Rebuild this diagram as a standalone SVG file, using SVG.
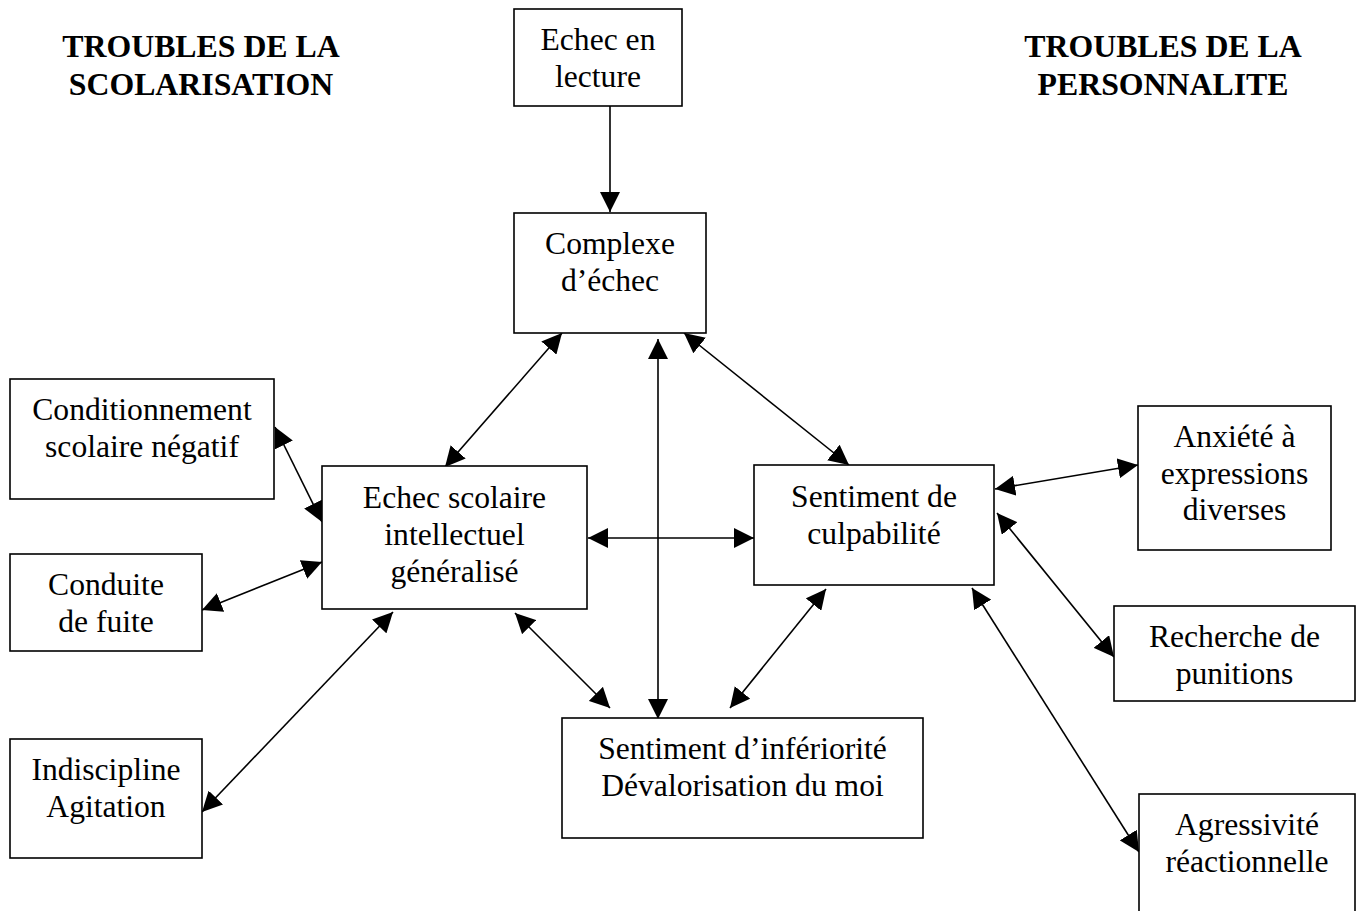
<svg xmlns="http://www.w3.org/2000/svg" width="1362" height="911" viewBox="0 0 1362 911">
<style>
.box{fill:#fff;stroke:#000;stroke-width:1.6}
.t{font-family:"Liberation Serif","Times New Roman",serif;font-size:31.6px;text-anchor:middle;fill:#000}
.h{font-family:"Liberation Serif","Times New Roman",serif;font-size:31.8px;font-weight:bold;text-anchor:middle;fill:#000}
.c{stroke:#000;stroke-width:1.6;fill:none;marker-end:url(#ah)}
.d{marker-start:url(#ah)}
</style>
<defs>
<marker id="ah" markerUnits="userSpaceOnUse" markerWidth="20" markerHeight="20" viewBox="0 0 20 20" refX="20" refY="10" orient="auto-start-reverse">
<path d="M0,0 L20,10 L0,20 z" fill="#000"/>
</marker>
</defs>
<rect width="1362" height="911" fill="#fff"/>
<g id="titles">
<text class="h" x="201" y="57">TROUBLES DE LA</text>
<text class="h" x="201" y="95">SCOLARISATION</text>
<text class="h" x="1163" y="57">TROUBLES DE LA</text>
<text class="h" x="1163" y="95">PERSONNALITE</text>
</g>
<g id="connectors">
<line class="c" x1="610" y1="106" x2="610" y2="212"/>
<line class="c d" x1="562" y1="333" x2="445" y2="467"/>
<line class="c d" x1="658" y1="339" x2="658" y2="719"/>
<line class="c d" x1="684" y1="333" x2="849" y2="465"/>
<line class="c d" x1="588" y1="538" x2="754" y2="538"/>
<line class="c d" x1="515" y1="613" x2="610" y2="708"/>
<line class="c d" x1="826" y1="589" x2="730" y2="708"/>
<line class="c d" x1="995" y1="489" x2="1138" y2="465"/>
<line class="c d" x1="997" y1="513" x2="1114" y2="657"/>
<line class="c d" x1="972" y1="588" x2="1139" y2="852"/>
<line class="c d" x1="275" y1="427" x2="322" y2="522"/>
<line class="c d" x1="202" y1="610" x2="322" y2="562"/>
<line class="c d" x1="202" y1="812" x2="393" y2="612"/>
</g>
<g id="echec-lecture">
<rect class="box" x="514" y="9" width="168" height="97"/>
<text class="t" x="598" y="50">Echec en</text>
<text class="t" x="598" y="87">lecture</text>
</g>
<g id="complexe">
<rect class="box" x="514" y="213" width="192" height="120"/>
<text class="t" x="610" y="254">Complexe</text>
<text class="t" x="610" y="291">d’échec</text>
</g>
<g id="echec-scolaire">
<rect class="box" x="322" y="466" width="265" height="143"/>
<text class="t" x="454.5" y="508">Echec scolaire</text>
<text class="t" x="454.5" y="545">intellectuel</text>
<text class="t" x="454.5" y="582">généralisé</text>
</g>
<g id="culpabilite">
<rect class="box" x="754" y="465" width="240" height="120"/>
<text class="t" x="874" y="507">Sentiment de</text>
<text class="t" x="874" y="544">culpabilité</text>
</g>
<g id="inferiorite">
<rect class="box" x="562" y="718" width="361" height="120"/>
<text class="t" x="742.5" y="759">Sentiment d’infériorité</text>
<text class="t" x="742.5" y="796">Dévalorisation du moi</text>
</g>
<g id="conditionnement">
<rect class="box" x="10" y="379" width="264" height="120"/>
<text class="t" x="142" y="420">Conditionnement</text>
<text class="t" x="142" y="457">scolaire négatif</text>
</g>
<g id="conduite">
<rect class="box" x="10" y="554" width="192" height="97"/>
<text class="t" x="106" y="595">Conduite</text>
<text class="t" x="106" y="632">de fuite</text>
</g>
<g id="indiscipline">
<rect class="box" x="10" y="739" width="192" height="119"/>
<text class="t" x="106" y="780">Indiscipline</text>
<text class="t" x="106" y="817">Agitation</text>
</g>
<g id="anxiete">
<rect class="box" x="1138" y="406" width="193" height="144"/>
<text class="t" x="1234.5" y="447">Anxiété à</text>
<text class="t" x="1234.5" y="484">expressions</text>
<text class="t" x="1234.5" y="520">diverses</text>
</g>
<g id="recherche">
<rect class="box" x="1114" y="606" width="241" height="95"/>
<text class="t" x="1234.5" y="647">Recherche de</text>
<text class="t" x="1234.5" y="684">punitions</text>
</g>
<g id="agressivite">
<rect class="box" x="1139" y="794" width="216" height="130"/>
<text class="t" x="1247" y="835">Agressivité</text>
<text class="t" x="1247" y="872">réactionnelle</text>
</g>
</svg>
